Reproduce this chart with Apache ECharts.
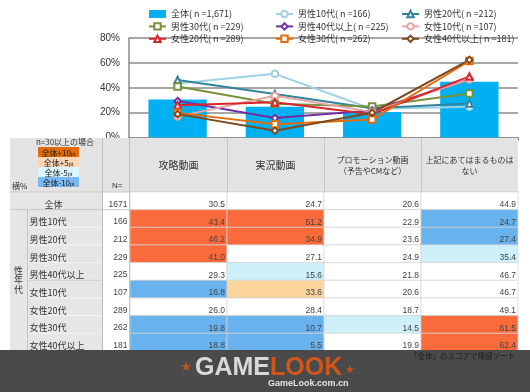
<!DOCTYPE html>
<html><head><meta charset="utf-8">
<script src="https://cdn.jsdelivr.net/npm/echarts@6/dist/echarts.min.js"></script>
<style>html,body{margin:0;padding:0;background:#fff}#c{width:530px;height:392px}</style>
</head><body><div id="c"></div>
<script>
// ---- data ----
const categories = ['攻略動画', '実況動画', 'プロモーション動画\n（予告やCMなど）', '上記にあてはまるものは\nない'];
const yTicks = [0, 20, 40, 60, 80];
const groups = ['全体', '男性10代', '男性20代', '男性30代', '男性40代以上', '女性10代', '女性20代', '女性30代', '女性40代以上'];
const groupN = [1671, 166, 212, 229, 225, 107, 289, 262, 181];
const total    = [30.5, 24.7, 20.6, 44.9];
const male10   = [43.4, 51.2, 22.9, 24.7];
const male20   = [46.2, 34.9, 23.6, 27.4];
const male30   = [41.0, 27.1, 24.9, 35.4];
const male40   = [29.3, 15.6, 21.8, 46.7];
const female10 = [16.8, 33.6, 20.6, 46.7];
const female20 = [26.0, 28.4, 18.7, 49.1];
const female30 = [19.8, 10.7, 14.5, 61.5];
const female40 = [18.8, 5.5, 19.9, 62.4];
const keyLabels = ['全体+10', '全体+5', '全体-5', '全体-10'];
const noteText = '「全体」のスコアで降順ソート';

// ---- styles ----
const rowValues = [total, male10, male20, male30, male40, female10, female20, female30, female40];
const lineColors = ['#9fd1e4', '#31849b', '#77933c', '#7030a0', '#e8a4a2', '#d9252b', '#e46c0a', '#7f4a1e'];
const lineSymbols = ['emptyCircle', 'emptyTriangle', 'emptyRect', 'emptyDiamond', 'emptyCircle', 'emptyTriangle', 'emptyRect', 'emptyDiamond'];
const cellColors = { '2': '#fb6a3a', '1': '#fdd49b', '0': '#ffffff', '-1': '#cdf0fb', '-2': '#68b2ee' };
const keyColors = ['#e36c0a', '#fcd5b4', '#daf6fc', '#78b9f0'];

const fmtN = n => n.toLocaleString('en-US');
const names = groups.map((g, i) => g + '( n =' + fmtN(groupN[i]) + ')');

// table geometry
const GL = 130, GR = 12, TTOP = 192, ROWH = 17.66, NROW = groups.length;
const TBOT = TTOP + ROWH * NROW;
const HTOP = 138;
const colW = (530 - GL - GR) / categories.length;

function diffClass(r, c) {
  if (r === 0) return 0;
  const d = rowValues[r][c] - total[c];
  if (d >= 10) return 2;
  if (d >= 5) return 1;
  if (d <= -10) return -2;
  if (d <= -5) return -1;
  return 0;
}
const cellData = [];
rowValues.forEach((row, r) => row.forEach((v, c) => cellData.push([c, r, v, diffClass(r, c)])));

function renderCell(params, api) {
  const c = api.value(0), r = api.value(1), v = api.value(2), k = api.value(3);
  const p = api.coord([c, r]);
  const s = api.size([1, 1]);
  const x = p[0] - s[0] / 2, y = p[1] - s[1] / 2;
  return {
    type: 'group', children: [
      { type: 'rect', shape: { x: x, y: y, width: s[0], height: s[1] },
        style: { fill: cellColors[String(k)], stroke: '#d4d4d4', lineWidth: 0.7 } },
      { type: 'text', style: { text: v.toFixed(1), x: x + s[0] - 2, y: y + s[1] - 0.5, align: 'right', verticalAlign: 'bottom',
        fill: '#444', font: '8.5px "Liberation Sans"' } }
    ]
  };
}

const series = [{
  name: names[0], type: 'bar', data: total, xAxisIndex: 0, yAxisIndex: 0,
  barWidth: '60%', itemStyle: { color: '#00b0f0' }, z: 2
}];
[male10, male20, male30, male40, female10, female20, female30, female40].forEach((d, i) => {
  series.push({
    name: names[i + 1], type: 'line', data: d, xAxisIndex: 0, yAxisIndex: 0,
    symbol: lineSymbols[i], symbolSize: 6.5,
    lineStyle: { color: lineColors[i], width: 2 },
    itemStyle: { color: lineColors[i], borderWidth: 1.5 },
    z: 3
  });
});
series.push({
  type: 'custom', xAxisIndex: 1, yAxisIndex: 1, renderItem: renderCell,
  data: cellData, encode: { x: 0, y: 1 }, z: 4, silent: true
});

const legendCommon = {
  orient: 'vertical', top: 4, itemWidth: 17, itemHeight: 8, itemGap: 2.4, selectedMode: false,
  textStyle: { fontSize: 9, lineHeight: 10, color: '#333', fontFamily: 'Noto Sans CJK JP' }
};

// graphic decorations (table frame, header key, watermark)
const G = [];
G.push({ type: 'rect', shape: { x: 10, y: HTOP, width: 530 - GR - 10, height: TTOP - HTOP }, style: { fill: '#e3e3e3' }, z: 1 });
G.push({ type: 'rect', shape: { x: 10, y: TTOP, width: 92.5, height: TBOT - TTOP }, style: { fill: '#e6e6e6' }, z: 1 });
// row separators in label column
for (let i = 1; i < NROW; i++) {
  const y = TTOP + ROWH * i;
  G.push({ type: 'line', shape: { x1: i === 1 ? 10 : 27, y1: y, x2: i === 1 ? 530 - GR : 102, y2: y },
    style: { stroke: i === 1 ? '#c8c8c8' : (i === 5 ? '#cfcfcf' : '#f4f4f4'), lineWidth: 1 }, z: 1 });
}
G.push({ type: 'line', shape: { x1: 10, y1: TTOP, x2: 530 - GR, y2: TTOP }, style: { stroke: '#c8c8c8', lineWidth: 1 }, z: 1 });
G.push({ type: 'line', shape: { x1: 27.5, y1: TTOP + ROWH, x2: 27.5, y2: TBOT }, style: { stroke: '#c4c4c4', lineWidth: 1 }, z: 1 });
G.push({ type: 'line', shape: { x1: 102.5, y1: HTOP, x2: 102.5, y2: TBOT }, style: { stroke: '#bdbdbd', lineWidth: 1 }, z: 1 });
G.push({ type: 'line', shape: { x1: 129.5, y1: HTOP, x2: 129.5, y2: TBOT }, style: { stroke: '#bdbdbd', lineWidth: 1 }, z: 1 });
for (let i = 1; i < categories.length; i++) {
  const x = Math.round(GL + colW * i) + 0.5;
  G.push({ type: 'line', shape: { x1: x, y1: HTOP, x2: x, y2: TTOP }, style: { stroke: '#c6c6c6', lineWidth: 1 }, z: 1 });
}
// header key
G.push({ type: 'text', style: { text: 'n=30以上の場合', x: 65, y: 142, align: 'center', verticalAlign: 'middle', fill: '#333', font: '8px "Noto Sans CJK JP"' }, z: 2 });
keyLabels.forEach((t, i) => {
  const y = 147 + i * 10;
  G.push({ type: 'rect', shape: { x: 38, y: y, width: 41, height: 10 }, style: { fill: keyColors[i] }, z: 2 });
  G.push({ type: 'text', style: { text: '{a|' + t + '}{b|pt}', x: 58.5, y: y + 5.5, align: 'center', verticalAlign: 'middle',
    rich: { a: { fontSize: 8, fill: '#222', fontFamily: 'Noto Sans CJK JP' }, b: { fontSize: 5.5, fill: '#222', padding: [3, 0, 0, 0] } } }, z: 2 });
});
G.push({ type: 'text', style: { text: '横%', x: 12, y: 186, verticalAlign: 'middle', fill: '#333', font: '8px "Noto Sans CJK JP"' }, z: 2 });
G.push({ type: 'text', style: { text: 'N=', x: 112, y: 186, verticalAlign: 'middle', fill: '#333', font: '8px "Liberation Sans"' }, z: 2 });
G.push({ type: 'text', style: { text: '性\n年\n代', x: 18.5, y: 280, align: 'center', verticalAlign: 'middle', lineHeight: 9.5, fill: '#333', font: '9px "Noto Sans CJK JP"' }, z: 2 });
// watermark band
G.push({ type: 'rect', shape: { x: 0, y: 350, width: 530, height: 42 }, style: { fill: '#4a4a4a' }, z: 100 });
G.push({ type: 'text', style: { text: '★', x: 186, y: 368, align: 'center', verticalAlign: 'middle', fill: '#c5521d', font: '13px "DejaVu Sans"' }, z: 101 });
G.push({ type: 'text', style: { text: '{g|GAME}{l|LOOK}', x: 195, y: 368, verticalAlign: 'middle',
  rich: { g: { fill: '#d8d8d8', font: 'bold 25px "Liberation Sans"' }, l: { fill: '#d2561a', font: 'bold 25px "Liberation Sans"' } } }, z: 101 });
G.push({ type: 'text', style: { text: '★', x: 350, y: 370, align: 'center', verticalAlign: 'middle', fill: '#c5521d', font: '11px "DejaVu Sans"' }, z: 101 });
G.push({ type: 'text', style: { text: 'GameLook.com.cn', x: 268, y: 383.5, verticalAlign: 'middle', fill: '#e6e6e6', font: 'bold 9px "Liberation Sans"' }, z: 101 });
G.push({ type: 'text', style: { text: noteText, x: 515, y: 356.5, align: 'right', verticalAlign: 'middle', fill: '#1c1c1c', font: '7.5px "Noto Sans CJK JP"' }, z: 101 });

const chart = echarts.init(document.getElementById('c'), null, { renderer: 'canvas' });
chart.setOption({
  animation: false,
  backgroundColor: '#fff',
  textStyle: { fontFamily: 'Noto Sans CJK JP' },
  legend: [
    Object.assign({ left: 143, data: [{ name: names[0], icon: 'rect' }, names[3], names[6]] }, legendCommon),
    Object.assign({ left: 270, data: [names[1], names[4], names[7]] }, legendCommon),
    Object.assign({ left: 396, data: [names[2], names[5], names[8]] }, legendCommon)
  ],
  grid: [
    { left: 129, right: GR, top: 38, height: 99.5 },
    { left: GL, right: GR, top: TTOP, height: TBOT - TTOP }
  ],
  xAxis: [
    { type: 'category', gridIndex: 0, data: categories, z: 0,
      axisLine: { lineStyle: { color: '#8a8a8a', width: 1.5 } },
      axisTick: { show: true, length: 3, lineStyle: { color: '#8a8a8a' } },
      axisLabel: { show: false } },
    { type: 'category', gridIndex: 1, data: categories, position: 'top', z: 5,
      axisLine: { show: false }, axisTick: { show: false },
      axisLabel: { interval: 0, margin: 27, verticalAlign: 'middle',
        formatter: v => (v.length > 6 ? '{s|' + v.split('\n').join('}\n{s|') + '}' : '{b|' + v + '}'),
        rich: { s: { fontSize: 8, lineHeight: 11, color: '#333', fontFamily: 'Noto Sans CJK JP' },
                b: { fontSize: 10, color: '#333', fontFamily: 'Noto Sans CJK JP' } } } }
  ],
  yAxis: [
    { type: 'value', gridIndex: 0, min: yTicks[0], max: yTicks[yTicks.length - 1], interval: yTicks[1] - yTicks[0], z: 0,
      axisLine: { show: true, lineStyle: { color: '#8a8a8a', width: 1.5 } },
      axisTick: { show: false },
      splitLine: { lineStyle: { color: '#8a8a8a', width: 1.5 } },
      axisLabel: { formatter: '{value}%', fontSize: 10, color: '#333', margin: 9, fontFamily: 'Liberation Sans' } },
    { type: 'category', gridIndex: 1, data: groups, inverse: true, z: 5,
      axisLine: { show: false }, axisTick: { show: false }, splitLine: { show: false },
      axisLabel: { margin: 2.5, interval: 0,
        formatter: (v, i) => (i === 0 ? '{c|' + v + '}' : '{l|' + v + '}') + '{n|' + groupN[i] + '}',
        rich: {
          l: { width: 74, align: 'left', fontSize: 9, color: '#333', fontFamily: 'Noto Sans CJK JP', padding: [7, 0, 0, 0] },
          c: { width: 100, align: 'center', fontSize: 9, color: '#333', fontFamily: 'Noto Sans CJK JP', padding: [7, 0, 0, 0] },
          n: { width: 24, align: 'right', fontSize: 8.5, color: '#444', fontFamily: 'Liberation Sans', padding: [7, 0, 0, 0] }
        } } }
  ],
  graphic: { elements: G },
  series: series
});
</script>
</body></html>
